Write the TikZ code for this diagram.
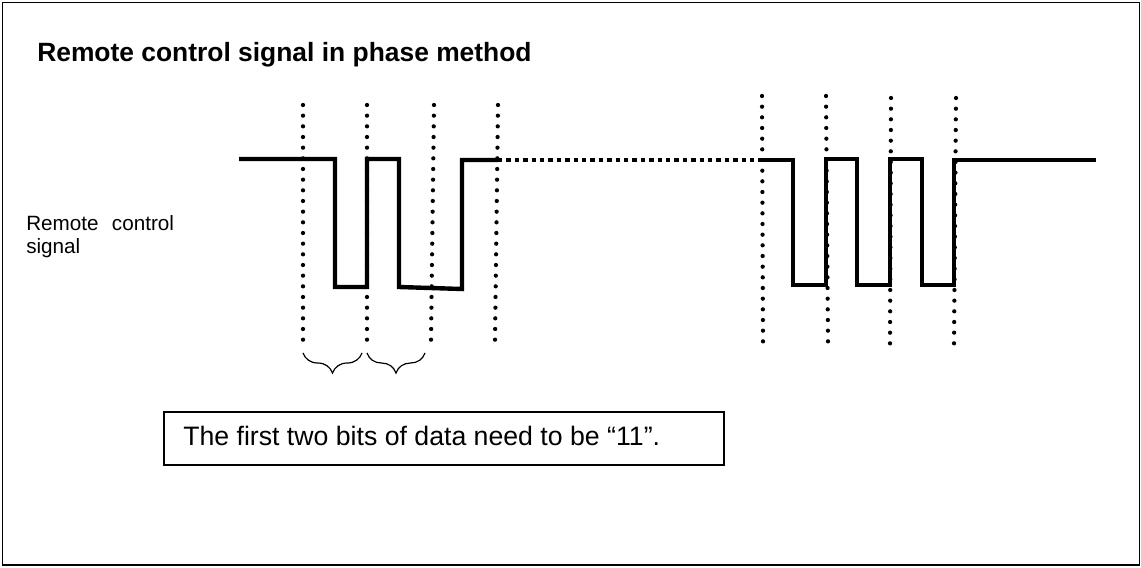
\documentclass[tikz,border=0pt]{standalone}
\usepackage{fontspec}
\setmainfont{Liberation Sans}
\usepackage{tikz}
\usetikzlibrary{decorations.pathreplacing}

\tikzset{
  dotline/.style={line width=3.2pt, line cap=round, dash pattern=on 0pt off 8pt},
  wave/.style={line width=3.3pt, line join=miter},
  wavegap/.style={line width=3.3pt, dash pattern=on 3.3pt off 3pt},
  bitbrace/.style={line width=0.9pt, decorate, decoration={brace, mirror, amplitude=15pt}}
}

\begin{document}
\begin{tikzpicture}[x=0.75pt, y=-0.75pt]
\useasboundingbox (0,0) rectangle (1141,567);
\draw[line width=1.2pt] (2.5,2.5) rectangle (1139.5,565);
\node (title) at (37,62) [anchor=base west, inner sep=0pt, font=\bfseries\fontsize{19.8}{24}\selectfont] {Remote control signal in phase method};
\node (lab1) at (26,230) [anchor=base west, inner sep=0pt, font=\fontsize{15.5}{18}\selectfont] {Remote\hspace{10pt}control};
\node (lab2) at (26,253) [anchor=base west, inner sep=0pt, font=\fontsize{15.5}{18}\selectfont] {signal};
% dotted bit borders
\draw[dotline] (303,105) -- (303,340);
\draw[dotline] (367,105) -- (367,340);
\draw[dotline] (434,105) -- (431,340);
\draw[dotline] (498,105) -- (495,340);
\draw[dotline] (762,96) -- (763,342);
\draw[dotline] (826,96) -- (828,342);
\draw[dotline] (891,98) -- (890,345);
\draw[dotline] (956,98) -- (954,345);
% signal
\draw[wave] (239,159) -- (335,159) -- (335,287) -- (367,287) -- (367,159) -- (399,159) -- (399,287) -- (462,289) -- (462,160) -- (498,160);
\draw[wavegap] (498,160) -- (760,160);
\draw[wave] (758,160) -- (793,160) -- (793,285) -- (826,285) -- (826,159) -- (857,159) -- (857,285) -- (890,285) -- (890,159) -- (922,159) -- (922,285) -- (954,285) -- (954,160) -- (1096,160);
% braces
\draw[bitbrace] (303,353) -- (362,353);
\draw[bitbrace] (367,353) -- (425,353);
\node (note) at (183,445) [anchor=base west, inner sep=0pt, font=\fontsize{20}{24}\selectfont] {The first two bits of data need to be “11”.};
\draw[line width=1pt] (164,412) rectangle (724,465);
\end{tikzpicture}
\end{document}
